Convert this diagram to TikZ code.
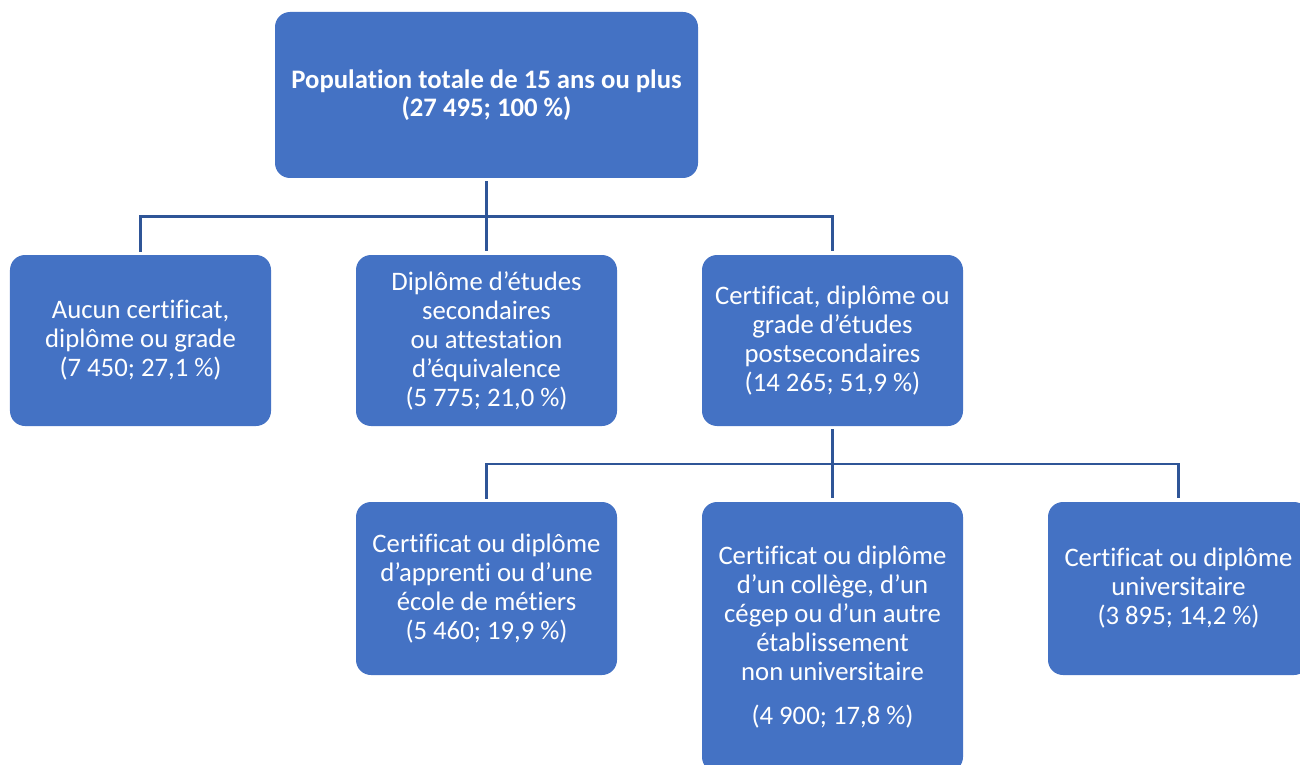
\documentclass[tikz,border=0pt]{standalone}
\usepackage{fontspec}
\setmainfont{Carlito}[Ligatures=NoCommon]
\usepackage{tikz}
\usetikzlibrary{calc}
\definecolor{boxBlue}{HTML}{4472C4}
\definecolor{linkBlue}{HTML}{2F5597}
\tikzstyle{fBox} = [rectangle, rounded corners=0.3cm, inner sep=0pt, minimum width=5.22cm, minimum height=3.42cm, text centered, align=center, fill=boxBlue, text=white, font=\fontsize{15.2}{16.5}\selectfont]
\tikzstyle{fTop} = [fBox, minimum width=8.46cm, minimum height=3.32cm, font=\fontsize{15.2}{16}\selectfont\bfseries]
\tikzstyle{fLink} = [line width=1.7pt, draw=linkBlue, shorten <=0.06cm, shorten >=0.08cm]
\begin{document}
\begin{tikzpicture}[node distance=6.92cm]
    \clip (0,0) rectangle (26,-15.3);
    \node (total) [fTop] at (9.73,-1.9) {Population totale de 15 ans ou plus\\(27 495; 100 \%)};
    \node (secondaire) [fBox, below of=total, yshift=2.01cm] {Diplôme d’études\\secondaires\\ou attestation\\d’équivalence\\(5 775; 21,0 \%)};
    \node (aucun) [fBox, left of=secondaire] {Aucun certificat,\\diplôme ou grade\\(7 450; 27,1 \%)};
    \node (postsec) [fBox, right of=secondaire] {Certificat, diplôme ou\\grade d’études\\postsecondaires\\(14 265; 51,9 \%)};
    \node (college) [fBox, minimum height=5.4cm, below of=postsec, yshift=0.99cm] {Certificat ou diplôme\\d’un collège, d’un\\cégep ou d’un autre\\établissement\\non universitaire\\[0.3cm](4 900; 17,8 \%)};
    \node (apprenti) [fBox, minimum height=3.46cm, left of=college, yshift=0.97cm] {Certificat ou diplôme\\d’apprenti ou d’une\\école de métiers\\(5 460; 19,9 \%)};
    \node (universite) [fBox, minimum height=3.46cm, right of=college, yshift=0.97cm] {Certificat ou diplôme\\universitaire\\(3 895; 14,2 \%)};

    \coordinate (bus1) at ($(total.south)!0.5!(secondaire.north)$);
    \coordinate (bus2) at ($(postsec.south)!0.5!(college.north)$);

    \draw [fLink] (total) -- (secondaire);
    \draw [fLink] (aucun.north) |- (bus1) -| (postsec.north);
    \draw [fLink] (postsec) -- (college);
    \draw [fLink] (apprenti.north) |- (bus2) -| (universite.north);
\end{tikzpicture}
\end{document}
